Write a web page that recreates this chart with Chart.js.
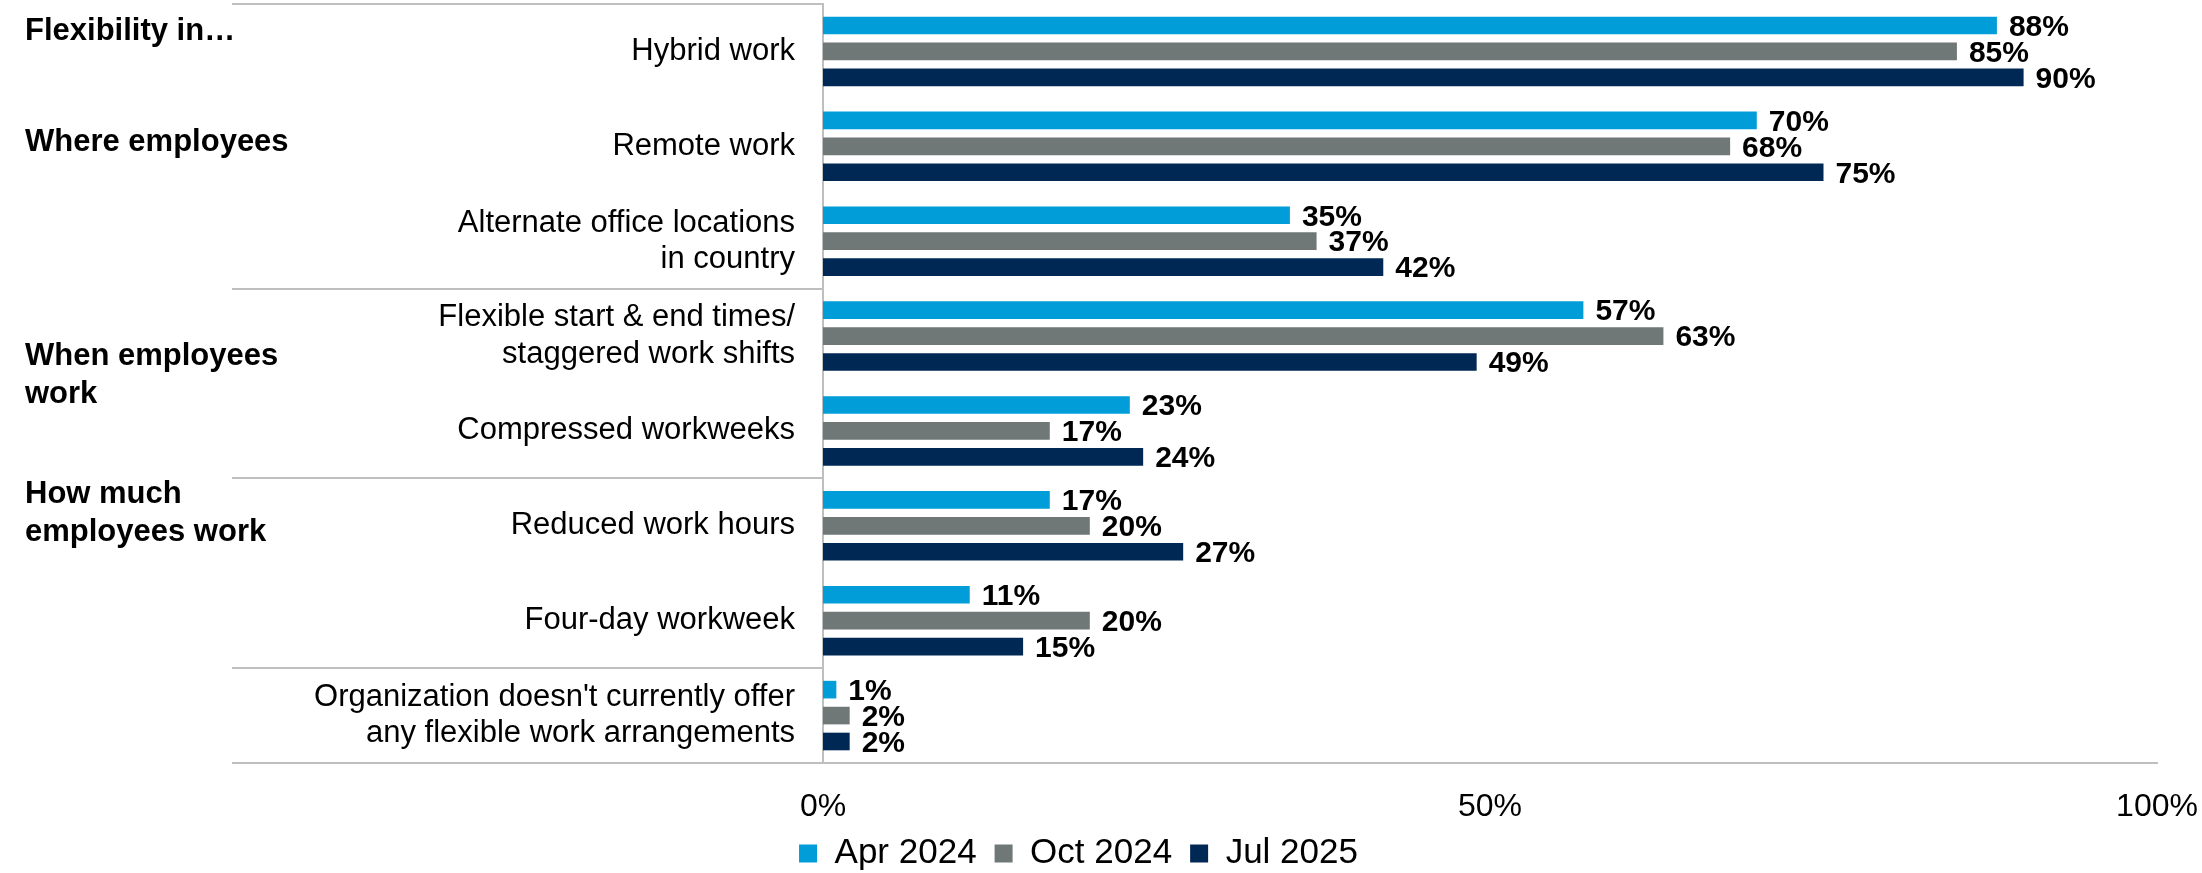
<!DOCTYPE html>
<html>
<head>
<meta charset="utf-8">
<script src="https://cdn.jsdelivr.net/npm/chart.js@4.4.1/dist/chart.umd.min.js"></script>
<style>
  html, body { margin: 0; padding: 0; background: #fff; }
  #wrap { width: 2202px; height: 873px; position: relative; }
</style>
</head>
<body>
<div id="wrap"><canvas id="chart"></canvas></div>
<script>
const categories = [
  'Hybrid work',
  'Remote work',
  ['Alternate office locations', 'in country'],
  ['Flexible start & end times/', 'staggered work shifts'],
  'Compressed workweeks',
  'Reduced work hours',
  'Four-day workweek',
  ["Organization doesn't currently offer", 'any flexible work arrangements']
];
const seriesNames = ['Apr 2024', 'Oct 2024', 'Jul 2025'];
const apr2024 = [88, 70, 35, 57, 23, 17, 11, 1];
const oct2024 = [85, 68, 37, 63, 17, 20, 20, 2];
const jul2025 = [90, 75, 42, 49, 24, 27, 15, 2];
const xStep = 50;

// section headings on the left, anchored in category units
const groupTitles = [
  { lines: ['Flexibility in…'], at: -0.215 },
  { lines: ['Where employees'], at: 0.955 },
  { lines: ['When employees', 'work'], at: 3.42 },
  { lines: ['How much', 'employees work'], at: 4.865 }
];
const groupBreaks = [-0.5, 2.5, 4.5, 6.5, 7.5];

const colors = ['#009DD9', '#6F7777', '#002855'];
const FONT = "'Liberation Sans', Arial, sans-serif";
const lineColor = '#BFBFBF';

const sections = {
  id: 'sections',
  afterDraw(chart) {
    const { ctx, chartArea } = chart;
    const y = chart.scales.y;
    ctx.save();
    ctx.strokeStyle = lineColor;
    ctx.lineWidth = 2;
    groupBreaks.forEach(b => {
      const py = Math.round(y.getPixelForValue(b));
      ctx.beginPath();
      ctx.moveTo(232, py);
      ctx.lineTo(chartArea.left, py);
      ctx.stroke();
    });
    ctx.fillStyle = '#000';
    ctx.font = 'bold 31px ' + FONT;
    ctx.textAlign = 'left';
    ctx.textBaseline = 'middle';
    groupTitles.forEach(g => {
      const cy = y.getPixelForValue(g.at);
      const lh = 38;
      const start = cy - (g.lines.length - 1) * lh / 2;
      g.lines.forEach((t, i) => ctx.fillText(t, 25, start + i * lh));
    });
    ctx.restore();
  }
};

const valueLabels = {
  id: 'valueLabels',
  afterDatasetsDraw(chart) {
    const { ctx } = chart;
    ctx.save();
    ctx.fillStyle = '#000';
    ctx.font = 'bold 30px ' + FONT;
    ctx.textAlign = 'left';
    ctx.textBaseline = 'middle';
    chart.data.datasets.forEach((ds, di) => {
      chart.getDatasetMeta(di).data.forEach((bar, i) => {
        ctx.fillText(ds.data[i] + '%', bar.x + 12, bar.y + 2);
      });
    });
    ctx.restore();
  }
};

new Chart(document.getElementById('chart'), {
  type: 'bar',
  data: {
    labels: categories,
    datasets: [apr2024, oct2024, jul2025].map((d, i) => ({
      label: seriesNames[i],
      data: d,
      backgroundColor: colors[i],
      categoryPercentage: 0.82,
      barPercentage: 0.68
    }))
  },
  options: {
    indexAxis: 'y',
    responsive: true,
    maintainAspectRatio: false,
    animation: false,
    layout: { padding: { top: 4, right: 45, left: 0, bottom: -8 } },
    plugins: {
      legend: {
        position: 'bottom',
        labels: {
          color: '#000',
          font: { family: FONT, size: 35 },
          boxWidth: 18,
          boxHeight: 18,
          padding: 18
        }
      },
      tooltip: { enabled: false }
    },
    scales: {
      y: {
        grid: { display: false, drawTicks: false },
        border: { color: lineColor, width: 2 },
        ticks: {
          color: '#000',
          font: { family: FONT, size: 31, lineHeight: 1.17 },
          padding: 28
        },
        afterFit(scale) {
          scale.width = 823;
          scale.paddingTop = 0;
          scale.paddingBottom = 0;
        }
      },
      x: {
        min: 0,
        max: 100,
        grid: { display: false, drawTicks: false },
        border: { color: lineColor, width: 2 },
        ticks: {
          stepSize: xStep,
          color: '#000',
          font: { family: FONT, size: 32 },
          padding: 25,
          maxRotation: 0,
          callback: v => v + '%'
        },
        afterFit(scale) {
          scale.height = 55;
          scale.paddingLeft = 0;
          scale.paddingRight = 0;
        }
      }
    }
  },
  plugins: [sections, valueLabels]
});
</script>
</body>
</html>
